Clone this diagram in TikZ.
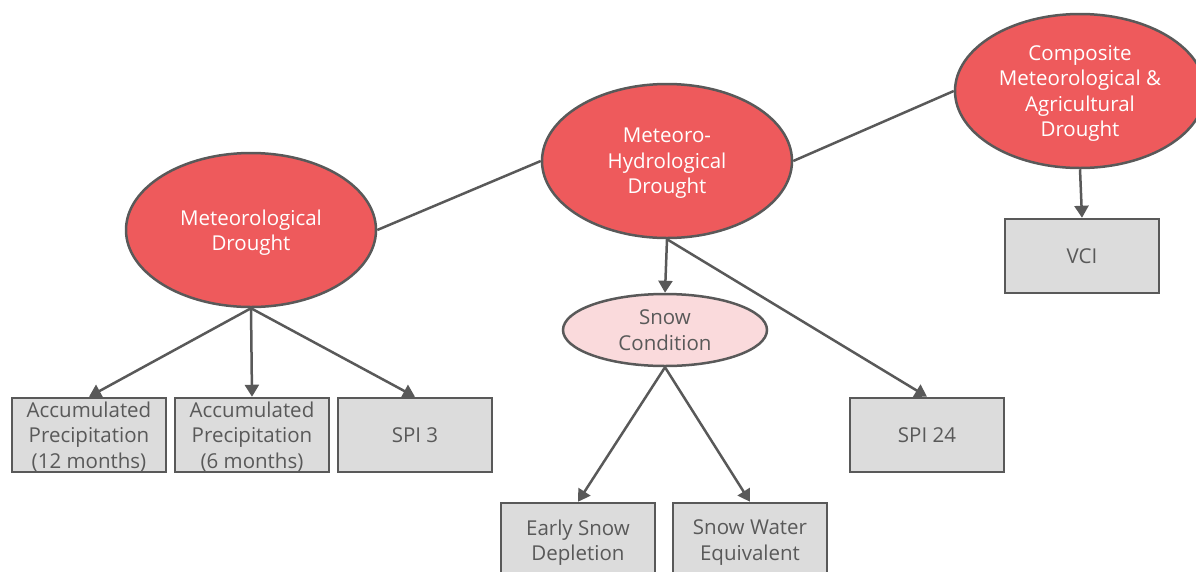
\documentclass[tikz,border=0pt]{standalone}
\usepackage{fontspec}
\setmainfont{Open Sans}
\usetikzlibrary{shapes.geometric,arrows.meta}
\definecolor{droughtred}{HTML}{EE5A5C}
\definecolor{snowpink}{HTML}{FADADC}
\definecolor{boxgray}{HTML}{DCDCDC}
\definecolor{linegray}{HTML}{595959}
\begin{document}
\begin{tikzpicture}[x=1pt,y=-1pt,
    drought/.style={ellipse,fill=droughtred,text=white,minimum width=250pt,minimum height=154pt},
    snow/.style={ellipse,fill=snowpink,text=linegray,minimum width=204pt,minimum height=72pt},
    index/.style={rectangle,fill=boxgray,text=linegray,minimum width=154pt,minimum height=74pt},
    arrowlink/.style={draw=linegray,line width=2.5pt,-{Triangle[length=12pt,width=14pt]}},
    plainlink/.style={draw=linegray,line width=2.5pt}]
      \tikzset{every node/.style={align=center,draw=linegray,line width=2.5pt,inner sep=0pt,text depth=0pt,font=\fontsize{20.5}{25.5}\selectfont}}
      \useasboundingbox (0,0) rectangle (1196,571);
      \clip (0,0) rectangle (1196,571);
      % drought types
      \node[drought] (met) at (251,230) {Meteorological\\Drought};
      \node[drought] (hydro) at (667,161) {Meteoro-\\Hydrological\\Drought};
      \node[drought] (comp) at (1080,91) {Composite\\Meteorological \&\\Agricultural\\Drought};
      \node[snow] (snowcond) at (665,330) {Snow\\Condition};
      % indices
      \node[index] (acc12) at (89,435) {Accumulated\\Precipitation\\(12 months)};
      \node[index] (acc6) at (252,435) {Accumulated\\Precipitation\\(6 months)};
      \node[index] (spi3) at (415,435) {SPI 3};
      \node[index] (spi24) at (927,435) {SPI 24};
      \node[index] (vci) at (1082,256) {VCI};
      \node[index] (esd) at (578,540) {Early Snow\\Depletion};
      \node[index] (swe) at (750,540) {Snow Water\\Equivalent};
      % connectors
      \draw[plainlink] (met.east) -- (hydro.west);
      \draw[plainlink] (hydro.east) -- (comp.west);
      \draw[arrowlink] (met.south) -- (acc12.north);
      \draw[arrowlink] (met.south) -- (acc6.north);
      \draw[arrowlink] (met.south) -- (spi3.north);
      \draw[arrowlink] (hydro.south) -- (snowcond.north);
      \draw[arrowlink] (hydro.south) -- (spi24.north);
      \draw[arrowlink] (snowcond.south) -- (esd.north);
      \draw[arrowlink] (snowcond.south) -- (swe.north);
      \draw[arrowlink] (comp.south) -- (vci.north);
\end{tikzpicture}
\end{document}
